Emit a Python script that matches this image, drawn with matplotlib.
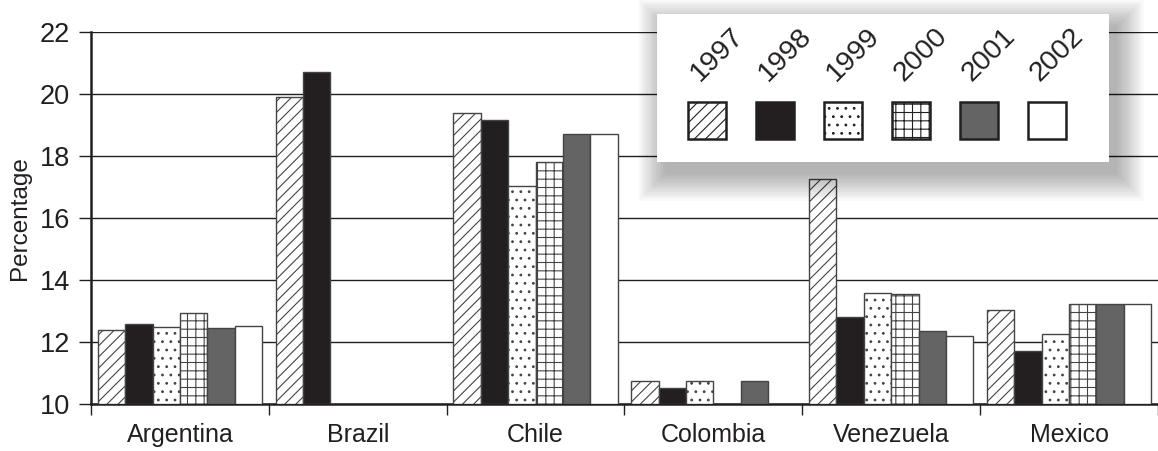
import matplotlib
matplotlib.use("Agg")
import matplotlib.pyplot as plt
import numpy as np
from matplotlib.patches import Rectangle

plt.rcParams['font.family'] = ['Liberation Sans', 'DejaVu Sans']
plt.rcParams['hatch.linewidth'] = 0.8

countries = ['Argentina', 'Brazil', 'Chile', 'Colombia', 'Venezuela', 'Mexico']
years = ['1997', '1998', '1999', '2000', '2001', '2002']

# percentage per country, one list per year (nan = no bar)
v1997 = [12.40, 19.88, 19.38, 10.75, 17.26, 13.02]
v1998 = [12.58, 20.70, 19.16, 10.50, 12.81, 11.71]
v1999 = [12.48, np.nan, 17.02, 10.75, 13.56, 12.27]
v2000 = [12.93, np.nan, 17.81, np.nan, 13.54, 13.22]
v2001 = [12.45, np.nan, 18.70, 10.75, 12.35, 13.22]
v2002 = [12.50, np.nan, 18.70, np.nan, 12.20, 13.22]
series = [v1997, v1998, v1999, v2000, v2001, v2002]

faces = ['white', '#231f20', 'white', 'white', '#646464', 'white']
hatches = ['///', None, '..', '++', None, None]
ink = '#231f20'

W, H = 1158, 451
fig = plt.figure(figsize=(W / 100, H / 100), dpi=100)
ax = fig.add_axes([91 / W, 1 - 404 / H, 1 - 91 / W, (404 - 31.5) / H])

x = np.arange(len(countries))
bw = 0.154
for j, vals in enumerate(series):
    vals = np.array(vals, dtype=float)
    ok = ~np.isnan(vals)
    ax.bar(x[ok] + (j - 2.5) * bw, vals[ok] - 10, bottom=10, width=bw,
           color=faces[j], edgecolor='#444444', linewidth=1.0,
           hatch=hatches[j], zorder=3)

ax.set_ylim(10, 22)
ax.set_xlim(-0.5, 5.5)
ax.set_yticks(np.arange(10, 23, 2))
ax.yaxis.grid(True, color=ink, linewidth=1.0, zorder=0)
ax.set_axisbelow(True)
ax.set_xticks(x)
ax.set_xticklabels(countries, fontsize=18, color=ink)
ax.set_xticks(np.arange(-0.5, 6, 1), minor=True)
ax.tick_params(axis='x', which='major', length=0, pad=14)
ax.tick_params(axis='x', which='minor', length=8, width=1, color=ink, direction='out')
ax.tick_params(axis='y', length=9, width=1, color=ink, labelsize=19.5, labelcolor=ink, pad=6)
ax.set_ylabel('Percentage', fontsize=17.5, color=ink, labelpad=6)
for s in ['top', 'right']:
    ax.spines[s].set_visible(False)
ax.spines['left'].set_linewidth(1.8)
ax.spines['bottom'].set_linewidth(1.8)
ax.spines['left'].set_color(ink)
ax.spines['bottom'].set_color(ink)


def fx(px):
    return px / W


def fy(py):
    return 1 - py / H


# legend box with a soft shadow (mostly below and right)
lx0, lx1, ly0, ly1 = 657, 1109, 14, 162
for k in range(16):
    g = k * 1.8
    fig.patches.append(Rectangle((fx(lx0 + 8 - g), fy(ly1 + 12 + g)),
                                 fx(lx1 - lx0 + 2 * g), (ly1 - ly0 + 2 * g) / H,
                                 transform=fig.transFigure, facecolor='black',
                                 edgecolor='none', alpha=0.018, zorder=4))
fig.patches.append(Rectangle((fx(lx0), fy(ly1)), fx(lx1 - lx0), (ly1 - ly0) / H,
                             transform=fig.transFigure, facecolor='white',
                             edgecolor='none', zorder=5))
for j, yr in enumerate(years):
    sx = 688 + 68 * j
    fig.patches.append(Rectangle((fx(sx), fy(139)), fx(38), 37 / H,
                                 transform=fig.transFigure, facecolor=faces[j],
                                 edgecolor=ink, linewidth=1.8, hatch=hatches[j],
                                 zorder=6))
    fig.text(fx(sx + 12), fy(82), yr, rotation=45, rotation_mode='anchor',
             ha='left', va='baseline', fontsize=20.5, color=ink, zorder=7)

fig.savefig('out.png', dpi=100)
